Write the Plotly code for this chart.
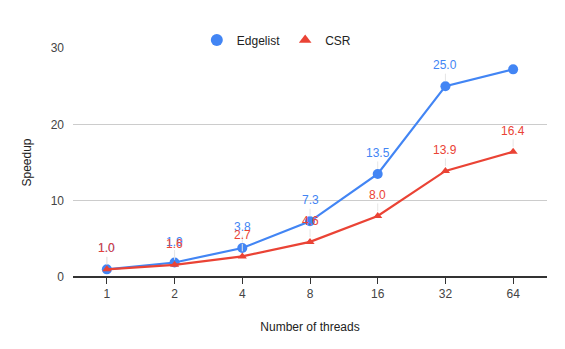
import plotly.graph_objects as go

threads = ["1", "2", "4", "8", "16", "32", "64"]
edgelist = [1.0, 1.9, 3.8, 7.3, 13.5, 25.0, 27.2]
csr = [1.0, 1.6, 2.7, 4.6, 8.0, 13.9, 16.4]
# data labels as shown on the chart (the last edgelist point has none)
edgelist_labels = ["1.0", "1.9", "3.8", "7.3", "13.5", "25.0", None]
csr_labels = ["1.0", "1.6", "2.7", "4.6", "8.0", "13.9", "16.4"]

BLUE = "#4285F4"
RED = "#EA4335"
FONT = "Liberation Sans, Arial, sans-serif"

fig = go.Figure()

# lines
fig.add_trace(go.Scatter(x=threads, y=edgelist, mode="lines+markers",
                         line=dict(color=BLUE, width=2.2),
                         marker=dict(symbol="circle", size=10, color=BLUE),
                         showlegend=False))
fig.add_trace(go.Scatter(x=threads, y=csr, mode="lines+markers",
                         line=dict(color=RED, width=2.2),
                         marker=dict(symbol="triangle-up", size=8, color=RED),
                         showlegend=False))

# legend entries (marker only, like the original)
fig.add_trace(go.Scatter(x=[None], y=[None], mode="markers", name="Edgelist",
                         marker=dict(symbol="circle", size=12, color=BLUE)))
fig.add_trace(go.Scatter(x=[None], y=[None], mode="markers", name="CSR",
                         marker=dict(symbol="triangle-up", size=11, color=RED)))

# data labels with faint leader lines (x is the category index)
for labels, vals, col in ((edgelist_labels, edgelist, BLUE), (csr_labels, csr, RED)):
    for i, (v, lab) in enumerate(zip(vals, labels)):
        if lab is None:
            continue
        fig.add_annotation(x=i, y=v, xref="x", yref="y", text=lab, showarrow=True,
                           arrowhead=0, arrowwidth=1, arrowcolor="#e6e6e6",
                           ax=0, ay=-21, standoff=5,
                           font=dict(color=col, size=12, family=FONT))

# the page body adds an 8px offset, so margins are shifted to compensate
fig.update_layout(
    width=565, height=349,
    margin=dict(l=65, r=26, t=40, b=80, autoexpand=False),
    plot_bgcolor="white", paper_bgcolor="white",
    font=dict(family=FONT, size=12, color="#444"),
    legend=dict(orientation="h", x=0.43, xanchor="center", y=1.035, yanchor="middle",
                font=dict(size=12, color="#222")),
)

fig.update_xaxes(type="category", range=[-0.5, 6.5],
                 title=dict(text="Number of threads", font=dict(size=12, color="#222"), standoff=22),
                 showgrid=False, showline=False, zeroline=False,
                 ticks="outside", ticklen=6, tickcolor="#333", tickwidth=1,
                 tickfont=dict(size=12, color="#444"))
fig.update_yaxes(range=[0, 30], tickvals=[0, 10, 20, 30],
                 title=dict(text="Speedup", font=dict(size=12, color="#222"), standoff=16),
                 showgrid=True, gridcolor="#cccccc", gridwidth=1,
                 zeroline=True, zerolinecolor="#333", zerolinewidth=1.5,
                 showline=False, ticklabelstandoff=8,
                 tickfont=dict(size=12, color="#444"))

fig.write_html("out.html")
